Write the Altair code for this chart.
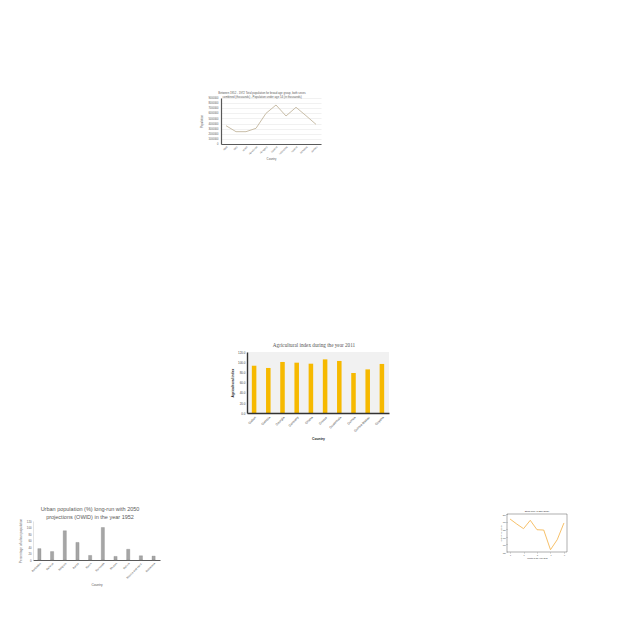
import altair as alt
import pandas as pd

W, H = 640, 640
SANS = "Liberation Sans"
SERIF = "Liberation Serif"

# ---------------- data ----------------
# chart 1 (top): line chart
c1_countries = ["Haiti", "Italy", "Israel", "Honduras", "Hungary", "Iceland",
                "Indonesia", "Ireland", "Jamaica", "Jordan"]
c1_population = [3580000, 2410000, 2410000, 3070000, 6000000, 7630000,
                 5480000, 7180000, 5540000, 3840000]
c1_yticks = [0, 1000000, 2000000, 3000000, 4000000, 5000000, 6000000,
             7000000, 8000000, 9000000]
c1_title = ("Between 1952 - 1972 Total population for broad age group, both sexes\n"
            "combined (thousands) - Population under age 14 (in thousands)")

# chart 2 (middle): yellow bars
c2_countries = ["Gabon", "Gambia", "Georgia", "Germany", "Ghana", "Greece",
                "Guatemala", "Guinea", "Guinea Bissau", "Guyana"]
c2_index = [93.0, 88.6, 100.4, 99.0, 97.0, 105.5, 102.4, 78.7, 85.8, 96.5]
c2_yticks = [0, 20, 40, 60, 80, 100, 120]
c2_title = "Agricultural index during the year 2011"

# chart 3 (bottom left): grey bars
c3_countries = ["Barbados", "Belarus", "Belgium", "Belize", "Benin", "Bermuda",
                "Bhutan", "Bolivia", "Bosnia and Herz.", "Botswana"]
c3_urban = [35, 26, 90, 54, 14, 100, 11, 33, 13, 12]
c3_yticks = [0, 20, 40, 60, 80, 100, 120]
c3_title = "Urban population (%) long-run with 2050\nprojections (OWID) in the year 1952"

# chart 4 (bottom right): small line chart
c4_month = [1, 2, 3, 4, 5, 6, 7, 8, 9]
c4_price = [193.4, 186.8, 180.7, 191.7, 179.3, 178.9, 153.0, 166.2, 188.2]
c4_yticks = [150, 160, 170, 180, 190, 200]
c4_xticks = [1, 3, 5, 7, 9]
c4_title = "Stock price of IBM (2011)"

# ---------------- geometry (pixel boxes of each plot) ----------------
C1_X, C1_Y = (221, 321), (144, 98)
C2_X, C2_Y = (247, 389), (413, 352)
C3_X, C3_Y = (33, 160), (560, 521)
C4_X, C4_Y = (507, 567), (552, 514)


def text_layer(txt, x, y, size, font=SANS, color="#595959", **kw):
    return alt.Chart(pd.DataFrame({"t": [txt]})).mark_text(
        fontSize=size, font=font, color=color, lineBreak="\n", **kw
    ).encode(text="t:N", x=alt.value(x), y=alt.value(y))


def box_layer(xr, yr, **kw):
    return alt.Chart(pd.DataFrame({"t": [0]})).mark_rect(**kw).encode(
        x=alt.value(xr[0]), x2=alt.value(xr[1]), y=alt.value(yr[1]), y2=alt.value(yr[0]))


# ---------------- chart 1 ----------------
df1 = pd.DataFrame({"Country": c1_countries, "Population": c1_population})
ch1 = alt.Chart(df1).mark_line(color="#c9bea8", strokeWidth=1).encode(
    x=alt.X("Country:N", sort=c1_countries,
            scale=alt.Scale(type="point", range=list(C1_X), padding=0.5),
            axis=alt.Axis(orient="bottom", offset=C1_Y[0] - H, labelAngle=-45,
                          labelFontSize=2.6, labelColor="#595959", labelFont=SANS,
                          labelPadding=1.5, ticks=False, domainColor="#595959",
                          domainWidth=1.2, grid=False, title="Country",
                          titleFontSize=2.8, titleColor="#595959", titleFont=SANS,
                          titleFontWeight="normal", titlePadding=2, labelOverlap=False)),
    y=alt.Y("Population:Q",
            scale=alt.Scale(domain=[0, 9000000], range=[C1_Y[0], C1_Y[1]], nice=False),
            axis=alt.Axis(orient="left", offset=-C1_X[0], values=c1_yticks, format="d",
                          labelFontSize=2.6, labelColor="#595959", labelFont=SANS,
                          labelPadding=3, ticks=False, domainColor="#595959",
                          domainWidth=1.2, gridColor="#e3e3e3", gridWidth=0.5,
                          title="Population", titleFontSize=2.8, titleColor="#595959",
                          titleFont=SANS, titleFontWeight="normal", titlePadding=5,
                          labelOverlap=False)),
)
t1 = text_layer(c1_title, 262, 92.7, 2.8, lineHeight=4)

# ---------------- chart 2 ----------------
df2 = pd.DataFrame({"Country": c2_countries, "Index": c2_index})
bg2 = box_layer(C2_X, C2_Y, color="#f1f1f1")
ch2 = alt.Chart(df2).mark_bar(color="#f6b900").encode(
    x=alt.X("Country:N", sort=c2_countries,
            scale=alt.Scale(type="band", range=list(C2_X), paddingInner=0.68, paddingOuter=0.34),
            axis=alt.Axis(orient="bottom", offset=C2_Y[0] - H, labelAngle=-45,
                          labelFontSize=3.2, labelColor="#444444", labelFont=SANS,
                          labelPadding=2, ticks=False, domainColor="#333333",
                          domainWidth=1.4, grid=False, title="Country",
                          titleFontSize=3.4, titleColor="#222222", titleFont=SANS,
                          titleFontWeight="bold", titlePadding=5, labelOverlap=False,
                          zindex=1)),
    y=alt.Y("Index:Q",
            scale=alt.Scale(domain=[0, 120], range=[C2_Y[0], C2_Y[1]], nice=False),
            axis=alt.Axis(orient="left", offset=-C2_X[0], values=c2_yticks, format=".1f",
                          labelFontSize=3.0, labelColor="#444444", labelFont=SANS,
                          labelPadding=2, ticks=False, domainColor="#333333",
                          domainWidth=1.4, gridColor="#d6d6d6", gridWidth=0.5,
                          title="Agricultural index", titleFontSize=3.4,
                          titleColor="#222222", titleFont=SANS, titleFontWeight="bold",
                          titlePadding=3, labelOverlap=False, zindex=1)),
)
t2 = text_layer(c2_title, 314, 345, 5.2, font=SERIF, color="#555555")

# ---------------- chart 3 ----------------
df3 = pd.DataFrame({"Country": c3_countries, "Urban": c3_urban})
ch3 = alt.Chart(df3).mark_bar(color="#a6a6a6", stroke="#7a7a7a", strokeWidth=0.3).encode(
    x=alt.X("Country:N", sort=c3_countries,
            scale=alt.Scale(type="band", range=list(C3_X), paddingInner=0.75, paddingOuter=0.38),
            axis=alt.Axis(orient="bottom", offset=C3_Y[0] - H, labelAngle=-45,
                          labelFontSize=2.8, labelColor="#595959", labelFont=SANS,
                          labelPadding=1.5, ticks=False, domainColor="#595959",
                          domainWidth=1.2, grid=False, title="Country",
                          titleFontSize=3.2, titleColor="#595959", titleFont=SANS,
                          titleFontWeight="normal", titlePadding=4, labelOverlap=False)),
    y=alt.Y("Urban:Q",
            scale=alt.Scale(domain=[0, 120], range=[C3_Y[0], C3_Y[1]], nice=False),
            axis=alt.Axis(orient="left", offset=-C3_X[0], values=c3_yticks, format="d",
                          labelFontSize=2.8, labelColor="#595959", labelFont=SANS,
                          labelPadding=2, ticks=False, domainColor="#d0d0d0",
                          domainWidth=0.6, gridColor="#dcdcdc", gridWidth=0.5,
                          title="Percentage of urban population", titleFontSize=3.2,
                          titleColor="#595959", titleFont=SANS, titleFontWeight="normal",
                          titlePadding=4, labelOverlap=False)),
)
t3 = text_layer(c3_title, 90, 509.2, 5.5, lineHeight=7.7)

# ---------------- chart 4 ----------------
df4 = pd.DataFrame({"Month": c4_month, "Price": c4_price})
ch4 = alt.Chart(df4).mark_line(color="#f4b042", strokeWidth=0.8).encode(
    x=alt.X("Month:Q",
            scale=alt.Scale(domain=[0.55, 9.45], range=list(C4_X), nice=False, zero=False),
            axis=alt.Axis(orient="bottom", offset=C4_Y[0] - H, values=c4_xticks,
                          labelFontSize=1.8, labelColor="#333333", labelFont=SANS,
                          labelPadding=0.8, tickSize=1, tickWidth=0.3, tickColor="#333333",
                          domain=False, grid=False, title="Month of the year 2011",
                          titleFontSize=2.0, titleColor="#333333", titleFont=SANS,
                          titleFontWeight="normal", titlePadding=0.8, labelOverlap=False,
                          labelFlush=False)),
    y=alt.Y("Price:Q",
            scale=alt.Scale(domain=[150, 200], range=[C4_Y[0], C4_Y[1]], nice=False, zero=False),
            axis=alt.Axis(orient="left", offset=-C4_X[0], values=c4_yticks, format="d",
                          labelFontSize=1.8, labelColor="#333333", labelFont=SANS,
                          labelPadding=0.8, tickSize=1, tickWidth=0.3, tickColor="#333333",
                          domain=False, grid=False, title="Stock price (USD)",
                          titleFontSize=2.0, titleColor="#333333", titleFont=SANS,
                          titleFontWeight="normal", titlePadding=1, labelOverlap=False,
                          labelFlush=False)),
)
fr4 = box_layer(C4_X, C4_Y, filled=False, stroke="#333333", strokeWidth=0.4)
t4 = text_layer(c4_title, 537, 511, 2.2, color="#222222")

chart = alt.layer(
    t1, ch1, bg2, ch2, t2, ch3, t3, ch4, fr4, t4
).resolve_scale(
    x="independent", y="independent"
).resolve_axis(
    x="independent", y="independent"
).properties(
    width=W, height=H, padding=0, autosize=alt.AutoSizeParams(type="none"),
    background="white"
).configure_view(strokeWidth=0)

chart.save("out.html", embed_options={"renderer": "svg", "actions": False})
